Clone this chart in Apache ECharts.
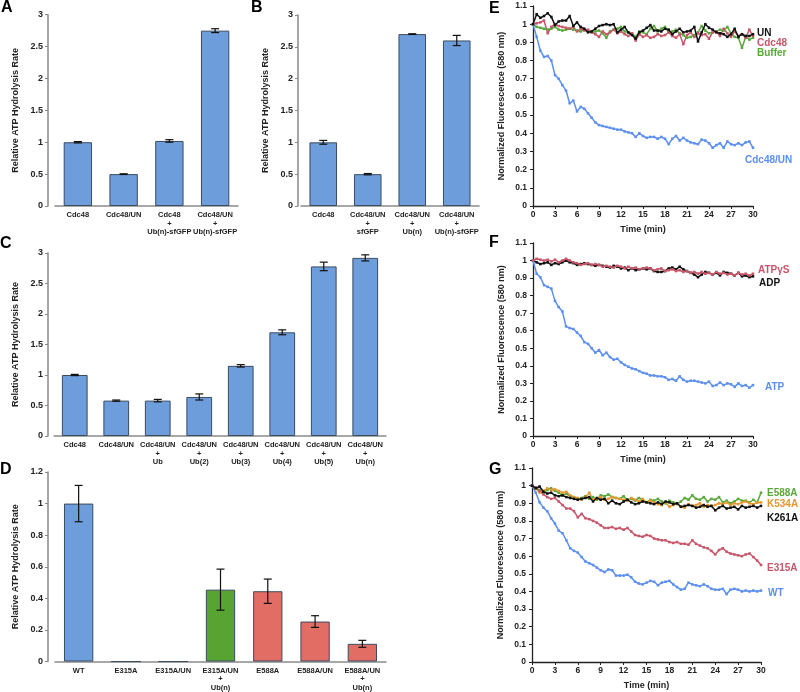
<!DOCTYPE html>
<html><head><meta charset="utf-8">
<script src="https://cdn.jsdelivr.net/npm/echarts@6/dist/echarts.min.js"></script>
<style>html,body{margin:0;padding:0;background:#fff}#c{width:800px;height:692px}</style>
</head><body><div id="c"></div>
<script>
// ---------- Bar panels ----------
const catsA = ['Cdc48', 'Cdc48/UN', 'Cdc48\n+\nUb(n)-sfGFP', 'Cdc48/UN\n+\nUb(n)-sfGFP'];
const valsA = [1.0, 0.5, 1.02, 2.75];
const errsA = [0.01, 0.005, 0.02, 0.03];

const catsB = ['Cdc48', 'Cdc48/UN\n+\nsfGFP', 'Cdc48/UN\n+\nUb(n)', 'Cdc48/UN\n+\nUb(n)-sfGFP'];
const valsB = [1.0, 0.5, 2.7, 2.6];
const errsB = [0.03, 0.01, 0.005, 0.08];

const catsC = ['Cdc48', 'Cdc48/UN', 'Cdc48/UN\n+\nUb', 'Cdc48/UN\n+\nUb(2)', 'Cdc48/UN\n+\nUb(3)', 'Cdc48/UN\n+\nUb(4)', 'Cdc48/UN\n+\nUb(5)', 'Cdc48/UN\n+\nUb(n)'];
const valsC = [1.0, 0.58, 0.58, 0.64, 1.15, 1.70, 2.78, 2.92];
const errsC = [0.01, 0.01, 0.02, 0.05, 0.02, 0.04, 0.07, 0.05];

const catsD = ['WT', 'E315A', 'E315A/UN', 'E315A/UN\n+\nUb(n)', 'E588A', 'E588A/UN', 'E588A/UN\n+\nUb(n)'];
const valsD = [1.0, 0, 0, 0.455, 0.445, 0.253, 0.112];
const errsD = [0.115, 0, 0, 0.13, 0.077, 0.037, 0.022];
const colorsD = ['#6d9edb', '#6d9edb', '#6d9edb', '#58a433', '#e26d64', '#e26d64', '#e26d64'];

// ---------- Line panels ----------
const timeMin = [0,0.5,1,1.5,2,2.5,3,3.5,4,4.5,5,5.5,6,6.5,7,7.5,8,8.5,9,9.5,10,10.5,11,11.5,12,12.5,13,13.5,14,14.5,15,15.5,16,16.5,17,17.5,18,18.5,19,19.5,20,20.5,21,21.5,22,22.5,23,23.5,24,24.5,25,25.5,26,26.5,27,27.5,28,28.5,29,29.5,30];
const timeTicks = [0,3,6,9,12,15,18,21,24,27,30];

const E_UN = [1.0,1.055,1.035,1.045,1.06,1.04,0.995,1.015,1.02,1.02,1.045,0.99,1.01,0.985,0.975,0.955,0.96,0.975,0.99,0.995,1.0,0.995,1.0,0.955,0.97,0.985,0.955,0.94,0.92,0.955,0.965,0.98,0.995,0.965,0.965,0.96,0.975,0.97,0.945,0.96,0.975,0.955,0.96,0.965,0.985,0.905,0.955,1.0,0.98,0.97,0.955,0.95,0.945,0.93,0.945,0.975,0.93,0.945,0.935,0.935,0.945];
const E_Cdc48 = [1.0,1.005,1.01,1.02,0.95,0.985,1.0,0.99,0.985,0.98,0.975,0.985,0.96,0.975,0.965,0.97,0.955,0.945,0.93,0.96,0.945,0.955,0.97,0.95,0.96,0.945,0.935,0.95,0.91,0.945,0.93,0.94,0.925,0.93,0.945,0.935,0.94,0.955,0.935,0.925,0.945,0.89,0.94,0.955,0.93,0.95,0.94,0.945,0.92,0.955,0.96,0.935,0.975,0.95,0.93,0.96,0.935,0.945,0.925,0.97,0.935];
const E_Buffer = [1.0,0.985,0.98,0.975,0.97,0.975,0.985,0.97,0.965,0.97,0.975,0.97,0.965,0.96,0.97,0.965,0.955,0.96,0.965,0.95,0.925,0.96,0.97,0.975,0.985,0.96,0.955,0.95,0.93,0.96,0.955,0.945,0.975,0.99,0.96,0.975,0.985,0.955,0.96,0.97,0.95,0.94,0.925,0.93,0.94,0.955,0.99,0.965,0.95,0.955,0.96,0.97,0.965,0.985,0.95,0.93,0.925,0.87,0.93,0.915,0.925];
const E_Cdc48UN = [1.0,0.93,0.855,0.82,0.825,0.8,0.72,0.70,0.665,0.635,0.565,0.58,0.52,0.545,0.535,0.51,0.485,0.46,0.445,0.44,0.435,0.43,0.425,0.42,0.42,0.41,0.405,0.40,0.38,0.40,0.385,0.375,0.38,0.38,0.37,0.38,0.37,0.34,0.37,0.385,0.36,0.375,0.36,0.35,0.345,0.34,0.365,0.36,0.345,0.32,0.335,0.345,0.32,0.355,0.34,0.335,0.345,0.335,0.35,0.355,0.32];

const F_ATP = [1.0,0.925,0.905,0.86,0.85,0.84,0.77,0.735,0.71,0.625,0.615,0.61,0.59,0.57,0.535,0.525,0.50,0.475,0.49,0.46,0.475,0.45,0.435,0.44,0.42,0.405,0.395,0.385,0.38,0.37,0.36,0.355,0.345,0.345,0.34,0.34,0.335,0.32,0.325,0.315,0.34,0.32,0.31,0.315,0.315,0.31,0.305,0.30,0.31,0.285,0.29,0.305,0.29,0.30,0.295,0.28,0.30,0.285,0.29,0.275,0.29];
const F_ATPgS = [1.0,1.01,1.005,1.0,1.005,0.995,1.005,0.99,1.0,1.01,1.0,0.99,0.985,0.975,0.98,0.985,0.975,0.98,0.975,0.965,0.97,0.965,0.96,0.97,0.965,0.955,0.965,0.955,0.96,0.95,0.955,0.96,0.955,0.945,0.95,0.955,0.94,0.945,0.95,0.94,0.945,0.935,0.94,0.93,0.935,0.925,0.935,0.925,0.93,0.92,0.935,0.925,0.93,0.92,0.925,0.915,0.93,0.92,0.925,0.915,0.925];
const F_ADP = [1.0,0.99,0.98,0.985,0.99,0.975,0.985,0.98,0.99,1.0,0.99,0.985,0.975,0.98,0.985,0.98,0.975,0.97,0.975,0.97,0.965,0.96,0.97,0.965,0.955,0.96,0.945,0.955,0.945,0.95,0.955,0.95,0.955,0.94,0.935,0.935,0.94,0.955,0.96,0.95,0.965,0.95,0.94,0.93,0.92,0.905,0.92,0.935,0.93,0.92,0.93,0.915,0.935,0.93,0.925,0.915,0.93,0.91,0.915,0.905,0.91];

const G_WT = [1.0,0.96,0.905,0.875,0.855,0.815,0.785,0.745,0.73,0.69,0.645,0.63,0.62,0.595,0.57,0.56,0.55,0.535,0.52,0.51,0.525,0.52,0.49,0.49,0.49,0.495,0.48,0.455,0.445,0.44,0.45,0.46,0.455,0.435,0.45,0.455,0.46,0.44,0.425,0.41,0.415,0.45,0.44,0.435,0.43,0.44,0.43,0.415,0.41,0.41,0.415,0.385,0.41,0.415,0.41,0.40,0.405,0.40,0.405,0.40,0.405];
const G_E315A = [1.0,0.99,0.97,0.95,0.935,0.925,0.93,0.91,0.89,0.87,0.87,0.855,0.82,0.84,0.815,0.81,0.80,0.79,0.775,0.76,0.76,0.765,0.755,0.76,0.75,0.76,0.74,0.72,0.715,0.71,0.72,0.715,0.70,0.695,0.69,0.69,0.68,0.675,0.68,0.67,0.67,0.665,0.69,0.67,0.66,0.65,0.645,0.63,0.61,0.635,0.645,0.625,0.615,0.61,0.605,0.60,0.61,0.615,0.595,0.575,0.55];
const G_E588A = [1.0,0.985,0.975,0.96,0.975,0.985,0.97,0.96,0.945,0.955,0.94,0.935,0.925,0.93,0.94,0.925,0.935,0.92,0.945,0.94,0.95,0.935,0.93,0.925,0.94,0.92,0.925,0.915,0.93,0.92,0.905,0.92,0.915,0.925,0.91,0.9,0.915,0.905,0.895,0.91,0.93,0.92,0.945,0.925,0.92,0.935,0.91,0.925,0.92,0.935,0.905,0.915,0.9,0.91,0.925,0.915,0.915,0.905,0.92,0.905,0.96];
const G_K534A = [1.0,0.985,0.96,0.97,0.985,0.975,0.98,0.97,0.96,0.965,0.945,0.935,0.93,0.92,0.935,0.96,0.92,0.925,0.935,0.92,0.925,0.935,0.93,0.925,0.92,0.915,0.93,0.92,0.91,0.925,0.905,0.915,0.905,0.895,0.89,0.905,0.88,0.89,0.9,0.88,0.875,0.895,0.885,0.89,0.9,0.88,0.89,0.885,0.89,0.9,0.895,0.905,0.89,0.9,0.895,0.905,0.91,0.9,0.895,0.905,0.905];
const G_K261A = [1.0,0.985,0.995,0.965,0.955,0.96,0.945,0.94,0.945,0.935,0.93,0.925,0.92,0.925,0.93,0.935,0.91,0.93,0.92,0.925,0.9,0.915,0.9,0.895,0.91,0.92,0.905,0.895,0.9,0.91,0.905,0.9,0.895,0.905,0.895,0.91,0.905,0.895,0.9,0.88,0.885,0.89,0.885,0.875,0.88,0.89,0.88,0.885,0.86,0.875,0.885,0.87,0.875,0.88,0.865,0.885,0.875,0.88,0.885,0.875,0.885];

const FONT = 'Liberation Sans, Arial, sans-serif';
const BLUE_BAR = '#6d9edb';
const C_BLUE = '#5b8ff0', C_PINK = '#c8566a', C_GREEN = '#58a83a', C_ORANGE = '#e8962e', C_BLACK = '#111';

const grids = [], xAxes = [], yAxes = [], series = [], graphics = [];

function barPanel(cats, vals, errs, colors, g, yMax, yInt, yOffset) {
  const i = grids.length;
  grids.push(g);
  xAxes.push({type: 'category', gridIndex: i, data: cats,
    axisLine: {lineStyle: {color: '#8a8a8a', width: 1.5}}, axisTick: {show: false},
    axisLabel: {interval: 0, fontSize: 7.5, fontWeight: 'bold', color: '#222', fontFamily: FONT, lineHeight: 8.5, margin: 5}});
  yAxes.push({type: 'value', gridIndex: i, min: 0, max: yMax, interval: yInt, offset: yOffset,
    splitLine: {show: false},
    axisLine: {show: true, lineStyle: {color: '#8a8a8a', width: 1.5}},
    axisTick: {show: true, length: 3, lineStyle: {color: '#8a8a8a'}},
    axisLabel: {fontSize: 9, fontWeight: 'bold', color: '#222', fontFamily: FONT, margin: 5},
    name: 'Relative ATP Hydrolysis Rate', nameLocation: 'middle', nameGap: 28,
    nameTextStyle: {fontSize: 9, fontWeight: 'bold', color: '#222', fontFamily: FONT}});
  series.push({type: 'bar', xAxisIndex: i, yAxisIndex: i, barCategoryGap: '38%',
    data: vals.map((v, j) => ({value: v, itemStyle: {color: colors ? colors[j] : BLUE_BAR}})),
    itemStyle: {borderColor: '#3b4b60', borderWidth: 1}, silent: true});
  series.push({type: 'custom', xAxisIndex: i, yAxisIndex: i, z: 10,
    data: vals.map((v, j) => [j, v - errs[j], v + errs[j], errs[j]]),
    renderItem: (params, api) => {
      if (api.value(3) === 0) return null;
      const lo = api.coord([api.value(0), api.value(1)]);
      const hi = api.coord([api.value(0), api.value(2)]);
      const w = 4, st = {stroke: '#111', lineWidth: 1.2};
      return {type: 'group', children: [
        {type: 'line', shape: {x1: lo[0], y1: lo[1], x2: hi[0], y2: hi[1]}, style: st},
        {type: 'line', shape: {x1: lo[0] - w, y1: lo[1], x2: lo[0] + w, y2: lo[1]}, style: st},
        {type: 'line', shape: {x1: hi[0] - w, y1: hi[1], x2: hi[0] + w, y2: hi[1]}, style: st}
      ]};
    }});
}

function linePanel(lines, g) {
  const i = grids.length;
  grids.push(g);
  xAxes.push({type: 'value', gridIndex: i, min: 0, max: 30, interval: 3,
    splitLine: {show: false},
    axisLine: {lineStyle: {color: '#222', width: 1.3}}, axisTick: {show: true, length: 3, lineStyle: {color: '#222'}},
    axisLabel: {fontSize: 8.5, fontWeight: 'bold', color: '#222', fontFamily: FONT, margin: 4,
      customValues: timeTicks},
    name: 'Time (min)', nameLocation: 'middle', nameGap: 19,
    nameTextStyle: {fontSize: 9, fontWeight: 'bold', color: '#222', fontFamily: FONT}});
  yAxes.push({type: 'value', gridIndex: i, min: 0, max: 1.1, interval: 0.1,
    splitLine: {show: false},
    axisLine: {show: true, lineStyle: {color: '#222', width: 1.3}},
    axisTick: {show: true, length: 3, lineStyle: {color: '#222'}},
    axisLabel: {fontSize: 8.5, fontWeight: 'bold', color: '#222', fontFamily: FONT, margin: 6},
    name: 'Normalized Fluorescence (580 nm)', nameLocation: 'middle', nameGap: 27,
    nameTextStyle: {fontSize: 9, fontWeight: 'bold', color: '#222', fontFamily: FONT}});
  lines.forEach(l => {
    series.push({type: 'line', xAxisIndex: i, yAxisIndex: i, data: timeMin.map((t, k) => [t, l.v[k]]),
      symbol: 'rect', symbolSize: 2.5, showSymbol: true, lineStyle: {color: l.c, width: 1.5},
      itemStyle: {color: l.c}, z: l.z || 2, silent: true});
  });
}

barPanel(catsA, valsA, errsA, null, {left: 55, top: 14.7, width: 183, height: 191.3}, 3, 0.5, 7);
barPanel(catsB, valsB, errsB, null, {left: 301, top: 15, width: 178, height: 191}, 3, 0.5, 3);
barPanel(catsC, valsC, errsC, null, {left: 54, top: 253, width: 332, height: 183}, 3, 0.5, 6);
barPanel(catsD, valsD, errsD, colorsD, {left: 55, top: 472, width: 331, height: 190}, 1.2, 0.2, 7);

linePanel([
  {v: E_Buffer, c: C_GREEN}, {v: E_Cdc48, c: C_PINK}, {v: E_UN, c: C_BLACK, z: 3}, {v: E_Cdc48UN, c: C_BLUE}
], {left: 533, top: 6, width: 220, height: 200});
linePanel([
  {v: F_ADP, c: C_BLACK}, {v: F_ATPgS, c: C_PINK, z: 3}, {v: F_ATP, c: C_BLUE}
], {left: 533, top: 243, width: 220, height: 193});
linePanel([
  {v: G_E588A, c: C_GREEN}, {v: G_K534A, c: C_ORANGE}, {v: G_K261A, c: C_BLACK, z: 3}, {v: G_E315A, c: C_PINK}, {v: G_WT, c: C_BLUE}
], {left: 532, top: 468, width: 229, height: 194});

function txt(x, y, s, color, size) {
  graphics.push({type: 'text', left: x, top: y, silent: true,
    style: {text: s, fill: color, font: 'bold ' + size + 'px ' + FONT}});
}
// panel letters (top of text box)
txt(1, 0, 'A', '#000', 16); txt(251, 0, 'B', '#000', 16);
txt(0, 236, 'C', '#000', 16); txt(0, 462, 'D', '#000', 16);
txt(489, 1, 'E', '#000', 16); txt(489, 235, 'F', '#000', 16); txt(489, 462, 'G', '#000', 16);
// series labels
txt(757, 28, 'UN', C_BLACK, 10); txt(757, 38, 'Cdc48', C_PINK, 10); txt(757, 48, 'Buffer', C_GREEN, 10);
txt(745, 155, 'Cdc48/UN', C_BLUE, 10);
txt(758, 265, 'ATPγS', C_PINK, 10); txt(759, 278, 'ADP', C_BLACK, 10); txt(765, 382, 'ATP', C_BLUE, 10);
txt(767, 488, 'E588A', C_GREEN, 10); txt(767, 499, 'K534A', C_ORANGE, 10); txt(767, 513, 'K261A', C_BLACK, 10);
txt(767, 563, 'E315A', C_PINK, 10); txt(768, 588, 'WT', C_BLUE, 10);

const chart = echarts.init(document.getElementById('c'), null, {renderer: 'canvas'});
chart.setOption({animation: false, backgroundColor: '#fff', grid: grids, xAxis: xAxes, yAxis: yAxes, series: series, graphic: graphics});
</script></body></html>
